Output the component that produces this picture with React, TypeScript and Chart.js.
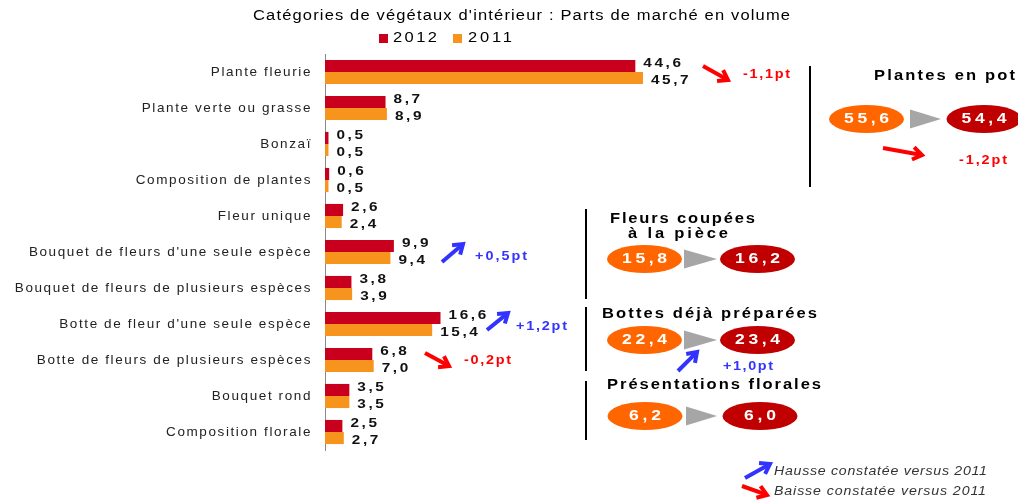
import React, { useEffect, useRef } from "react";
import { Chart, registerables } from "chart.js";

Chart.register(...registerables);

const chartTitle = "Catégories de végétaux d'intérieur : Parts de marché en volume";
const seriesLabels = ["2012", "2011"];
const categories = [
  "Plante fleurie",
  "Plante verte ou grasse",
  "Bonzaï",
  "Composition de plantes",
  "Fleur unique",
  "Bouquet de fleurs d'une seule espèce",
  "Bouquet de fleurs de plusieurs espèces",
  "Botte de fleur d'une seule espèce",
  "Botte de fleurs de plusieurs espèces",
  "Bouquet rond",
  "Composition florale",
];
const values2012 = [44.6, 8.7, 0.5, 0.6, 2.6, 9.9, 3.8, 16.6, 6.8, 3.5, 2.5];
const values2011 = [45.7, 8.9, 0.5, 0.5, 2.4, 9.4, 3.9, 15.4, 7.0, 3.5, 2.7];

// category-level changes shown beside bars
const barDeltaCategories = [0, 5, 7, 8];
const barDeltas = [-1.1, 0.5, 1.2, -0.2];

// grouped totals
const groupTitles = [["Plantes en pot"], ["Fleurs coupées", "à la pièce"], ["Bottes déjà préparées"], ["Présentations florales"]];
const groupValues2011 = [55.6, 15.8, 22.4, 6.2];
const groupValues2012 = [54.4, 16.2, 23.4, 6.0];
const groupDeltas = [-1.2, null, 1.0, null];

const legendUp = "Hausse constatée versus 2011";
const legendDown = "Baisse constatée versus 2011";

const RED = "#C8001E";
const ORANGE = "#F7941D";
const UP = "#3333FF";
const DOWN = "#FF0000";
const FONT = "'Liberation Sans', Arial, sans-serif";

const fmt = (v: number) => v.toFixed(1).replace(".", ",");
const fmtDelta = (v: number) => (v > 0 ? "+" : "") + fmt(v) + "pt";

// draws text so that it spans `width` px: partly by widening glyphs, the rest by letter spacing
function fitText(
  ctx: CanvasRenderingContext2D,
  text: string,
  x: number,
  y: number,
  font: string,
  color: string,
  width: number,
  align: "left" | "center" | "right" = "left",
  maxStretch = 1.18
) {
  ctx.save();
  ctx.font = font;
  (ctx as any).letterSpacing = "0px";
  const natural = ctx.measureText(text).width;
  const n = Array.from(text).length;
  const s = Math.max(1, Math.min(maxStretch, width / natural));
  const rest = width - natural * s;
  const sp = n > 1 ? rest / (n - 1) : 0;
  const sx = align === "center" ? x - width / 2 : align === "right" ? x - width : x;
  ctx.translate(sx, y);
  ctx.scale(s, 1);
  (ctx as any).letterSpacing = sp / s + "px";
  ctx.textAlign = "left";
  ctx.textBaseline = "middle";
  ctx.fillStyle = color;
  ctx.fillText(text, 0, 0);
  ctx.restore();
}

function spacedText(
  ctx: CanvasRenderingContext2D,
  text: string,
  x: number,
  y: number,
  font: string,
  color: string,
  spacing: number,
  stretch: number
) {
  ctx.save();
  ctx.font = font;
  ctx.translate(x, y);
  ctx.scale(stretch, 1);
  (ctx as any).letterSpacing = spacing / stretch + "px";
  ctx.textAlign = "left";
  ctx.textBaseline = "middle";
  ctx.fillStyle = color;
  ctx.fillText(text, 0, 0);
  ctx.restore();
}

function arrow(ctx: CanvasRenderingContext2D, x1: number, y1: number, x2: number, y2: number, color: string) {
  const ang = Math.atan2(y2 - y1, x2 - x1);
  const head = 11;
  ctx.save();
  ctx.strokeStyle = color;
  ctx.lineWidth = 4;
  ctx.lineCap = "butt";
  ctx.lineJoin = "miter";
  ctx.beginPath();
  ctx.moveTo(x1, y1);
  ctx.lineTo(x2 - Math.cos(ang) * 3, y2 - Math.sin(ang) * 3);
  ctx.stroke();
  ctx.beginPath();
  ctx.moveTo(x2 - head * Math.cos(ang - 0.6), y2 - head * Math.sin(ang - 0.6));
  ctx.lineTo(x2, y2);
  ctx.lineTo(x2 - head * Math.cos(ang + 0.6), y2 - head * Math.sin(ang + 0.6));
  ctx.stroke();
  ctx.restore();
}

function vline(ctx: CanvasRenderingContext2D, x: number, y1: number, y2: number) {
  ctx.save();
  ctx.strokeStyle = "#000";
  ctx.lineWidth = 2;
  ctx.beginPath();
  ctx.moveTo(x, y1);
  ctx.lineTo(x, y2);
  ctx.stroke();
  ctx.restore();
}

function pill(ctx: CanvasRenderingContext2D, cx: number, cy: number, color: string, text: string) {
  ctx.save();
  ctx.fillStyle = color;
  ctx.beginPath();
  ctx.ellipse(cx, cy, 37.5, 14, 0, 0, Math.PI * 2);
  ctx.fill();
  ctx.restore();
  const w = Array.from(text).length >= 4 ? 45 : 32;
  fitText(ctx, text, cx, cy + 0.5, `bold 14px ${FONT}`, "#fff", w, "center", 1.25);
}

function tri(ctx: CanvasRenderingContext2D, x1: number, x2: number, y1: number, y2: number) {
  ctx.save();
  ctx.fillStyle = "#A6A6A6";
  ctx.beginPath();
  ctx.moveTo(x1, y1);
  ctx.lineTo(x2, (y1 + y2) / 2);
  ctx.lineTo(x1, y2);
  ctx.closePath();
  ctx.fill();
  ctx.restore();
}

const spacingPlugin = {
  id: "spacing",
  beforeDraw(chart: any) {
    chart.ctx.letterSpacing = "1.6px";
  },
  beforeDatasetsDraw(chart: any) {
    chart.ctx.letterSpacing = "0px";
  },
};

const valueLabelsPlugin = {
  id: "valueLabels",
  afterDatasetsDraw(chart: any) {
    const ctx = chart.ctx as CanvasRenderingContext2D;
    chart.data.datasets.forEach((ds: any, di: number) => {
      const meta = chart.getDatasetMeta(di);
      meta.data.forEach((el: any, i: number) => {
        const dy = di === 0 ? -3 : 2;
        spacedText(ctx, fmt(ds.data[i]), el.x + 8, el.y + dy, `bold 13px ${FONT}`, "#111", 2.6, 1.18);
      });
    });
  },
};

const annotationsPlugin = {
  id: "annotations",
  afterDraw(chart: any) {
    const ctx = chart.ctx as CanvasRenderingContext2D;
    const y = chart.scales.y;

    // title + legend
    fitText(ctx, chartTitle, 253, 16, `14px ${FONT}`, "#000", 537);
    ctx.fillStyle = RED;
    ctx.fillRect(379, 34, 9, 9);
    fitText(ctx, seriesLabels[0], 393, 38.5, `14px ${FONT}`, "#000", 44);
    ctx.fillStyle = ORANGE;
    ctx.fillRect(453, 34, 9, 9);
    fitText(ctx, seriesLabels[1], 468, 38.5, `14px ${FONT}`, "#000", 44);

    // bar deltas
    const arrowGeo = [
      [703, 66, 728, 80, 743, 75, 47],
      [442, 262, 463, 244, 475, 257, 52],
      [487, 330, 508, 313, 516, 327, 51],
      [425, 353, 449, 366, 464, 361, 47],
    ];
    barDeltaCategories.forEach((ci, k) => {
      const g = arrowGeo[k];
      const off = y.getPixelForValue(ci) - y.getPixelForValue(barDeltaCategories[k]);
      const d = barDeltas[k];
      const col = d > 0 ? UP : DOWN;
      arrow(ctx, g[0], g[1] + off, g[2], g[3] + off, col);
      fitText(ctx, fmtDelta(d), g[4], g[5] + off, `bold 12px ${FONT}`, col, g[6], "left", 1.2);
    });

    // group separators
    vline(ctx, 810, 66, 187);
    vline(ctx, 586, 209, 299);
    vline(ctx, 586, 307, 371);
    vline(ctx, 586, 381, 440);

    // group titles
    const bold = `bold 14px ${FONT}`;
    fitText(ctx, groupTitles[0][0], 874, 76, bold, "#000", 141);
    fitText(ctx, groupTitles[1][0], 610, 219, bold, "#000", 145);
    fitText(ctx, groupTitles[1][1], 628, 234, bold, "#000", 100);
    fitText(ctx, groupTitles[2][0], 602, 314, bold, "#000", 215);
    fitText(ctx, groupTitles[3][0], 607, 385, bold, "#000", 214);

    // group pills
    const pills = [
      [866.5, 984, 119, 910, 941],
      [644.5, 757.5, 259, 684, 717],
      [644.5, 757.5, 340, 684, 717],
      [645, 760, 416, 686, 717],
    ];
    pills.forEach((p, k) => {
      pill(ctx, p[0], p[2], "#FF6600", fmt(groupValues2011[k]));
      tri(ctx, p[3], p[4], p[2] - 9.5, p[2] + 9.5);
      pill(ctx, p[1], p[2], "#C00000", fmt(groupValues2012[k]));
    });

    // group deltas
    const gd0 = groupDeltas[0] as number;
    arrow(ctx, 883, 148, 922, 155, gd0 > 0 ? UP : DOWN);
    fitText(ctx, fmtDelta(gd0), 959, 161, `bold 12px ${FONT}`, gd0 > 0 ? UP : DOWN, 48, "left", 1.2);
    const gd2 = groupDeltas[2] as number;
    arrow(ctx, 678, 371, 697, 352, gd2 > 0 ? UP : DOWN);
    fitText(ctx, fmtDelta(gd2), 723, 367, `bold 12px ${FONT}`, gd2 > 0 ? UP : DOWN, 50, "left", 1.2);

    // bottom legend
    arrow(ctx, 745, 478, 770, 464, UP);
    fitText(ctx, legendUp, 774, 472, `italic 12px ${FONT}`, "#333", 213);
    arrow(ctx, 742, 486, 767, 495, DOWN);
    fitText(ctx, legendDown, 774, 492, `italic 12px ${FONT}`, "#333", 212);
  },
};

export default function App() {
  const ref = useRef<HTMLCanvasElement | null>(null);
  useEffect(() => {
    if (!ref.current) return;
    const chart = new Chart(ref.current, {
      type: "bar",
      data: {
        labels: categories,
        datasets: [
          { label: seriesLabels[0], data: values2012, backgroundColor: RED, categoryPercentage: 0.67, barPercentage: 1 },
          { label: seriesLabels[1], data: values2011, backgroundColor: ORANGE, categoryPercentage: 0.67, barPercentage: 1 },
        ],
      },
      options: {
        indexAxis: "y",
        animation: false,
        responsive: true,
        maintainAspectRatio: false,
        layout: { padding: { top: 54, bottom: 53, left: 0, right: 345.1 } },
        plugins: {
          legend: { display: false },
          title: { display: false },
          tooltip: { enabled: false },
        },
        scales: {
          x: { display: false, min: 0, max: 50 },
          y: {
            grid: { display: false, drawTicks: false },
            border: { display: true, color: "#888", width: 1 },
            ticks: {
              padding: 13,
              color: "#222",
              font: { family: FONT, size: 13.5 },
            },
            afterFit: (scale: any) => {
              scale.width = 325;
            },
          },
        },
      } as any,
      plugins: [spacingPlugin, valueLabelsPlugin, annotationsPlugin],
    });
    return () => chart.destroy();
  }, []);
  return (
    <div style={{ position: "fixed", left: 0, top: 0, width: 1018, height: 503, background: "#fff" }}>
      <canvas ref={ref} />
    </div>
  );
}
